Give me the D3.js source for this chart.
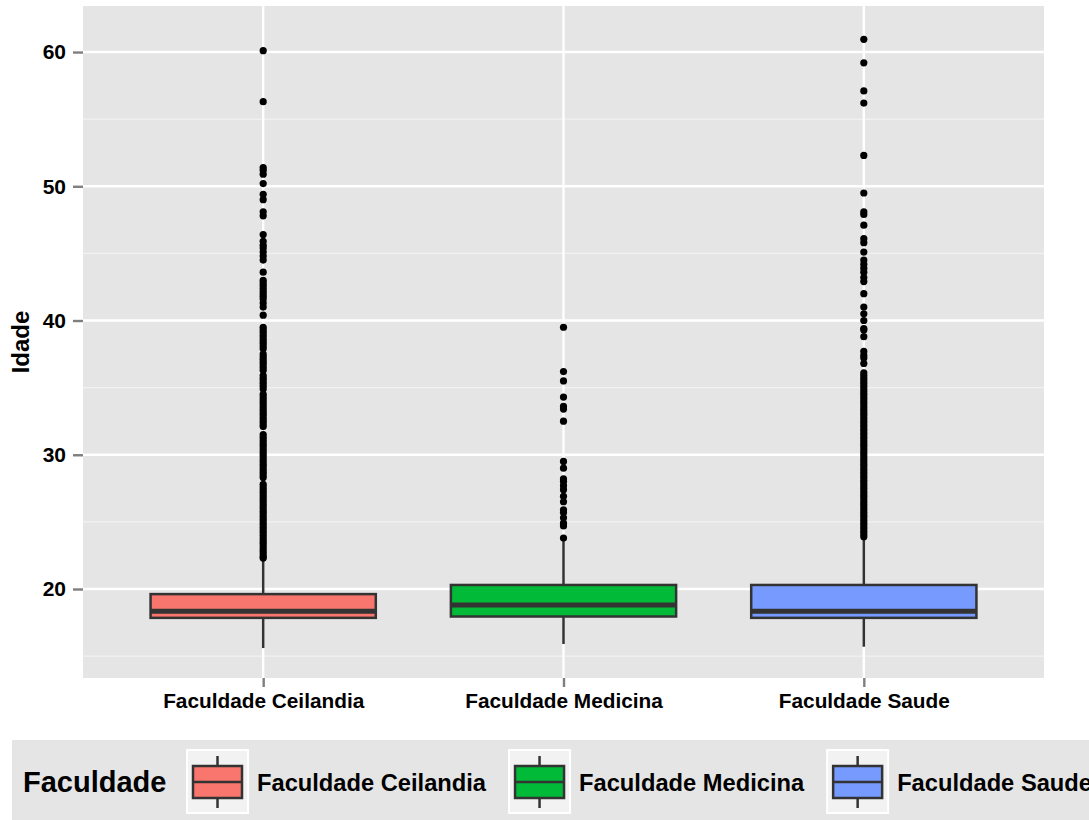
<html>
<head>
<title>Idade por Faculdade</title>
<script src="https://d3js.org/d3.v7.min.js"></script>
<style>
body { margin: 0; background: #fff; font-family: 'Liberation Sans', Arial, sans-serif; }
svg { display: block; }
</style>
</head>
<body>
<div id="chart"></div>
<script>

// categories and box statistics
var categories = ["Faculdade Ceilandia", "Faculdade Medicina", "Faculdade Saude"];
var colors = ["#F8766D", "#00BA38", "#779AFF"];
var lowerWhisker = [15.6, 15.9, 15.7];
var q1 = [17.85, 17.95, 17.85];
var medians = [18.35, 18.8, 18.35];
var q3 = [19.62, 20.3, 20.3];
var upperWhisker = [22.2, 23.6, 23.8];

// outliers per faculty
var outCeilandia = [60.1, 56.3, 51.4, 51.2, 50.9, 50.2, 49.4, 49.0, 48.1, 47.8, 46.4, 45.9, 45.6, 45.4,
  45.1, 44.8, 44.5, 43.6, 43.0, 42.8, 42.6, 42.4, 42.2, 42.0, 41.8, 41.6, 41.3, 41.0, 40.4, 39.5,
  39.3, 39.1, 38.9, 38.7, 38.5, 38.3, 38.1, 37.9, 37.5, 37.3, 37.1, 36.9, 36.7, 36.5, 36.3, 35.9,
  35.7, 35.5, 35.3, 35.1, 34.9, 34.5, 34.3, 34.1, 33.9, 33.7, 33.5, 33.3, 33.1, 32.9, 32.7, 32.5,
  32.3, 32.1, 31.5, 31.3, 31.1, 30.9, 30.7, 30.5, 30.3, 30.1, 29.9, 29.7, 29.5, 29.3, 29.1, 28.9,
  28.7, 28.5, 28.3, 27.8, 27.6, 27.4, 27.2, 27.0, 26.8, 26.6, 26.4, 26.2, 26.0, 25.8, 25.6, 25.4,
  25.2, 25.0, 24.8, 24.6, 24.4, 24.2, 24.0, 23.8, 23.6, 23.4, 23.2, 23.0, 22.8, 22.6, 22.4, 22.3];
var outMedicina = [39.5, 36.2, 35.5, 34.3, 33.6, 33.4, 32.5, 29.5, 29.0, 28.2, 28.0, 27.7, 27.4, 26.9,
  26.5, 25.9, 25.7, 25.3, 24.9, 24.7, 23.8];
var outSaude = [60.95, 59.2, 57.1, 56.2, 52.3, 49.5, 48.1, 47.9, 47.1, 46.1, 45.8, 45.1, 44.5, 44.2,
  43.9, 43.6, 43.2, 42.9, 42.0, 41.0, 40.5, 40.0, 39.4, 39.3, 38.8, 37.7, 37.4, 37.2, 36.8, 36.1,
  35.9, 35.7, 35.5, 35.3, 35.1, 34.9, 34.7, 34.5, 34.3, 34.1, 33.9, 33.7, 33.5, 33.3, 33.1, 32.9,
  32.7, 32.5, 32.3, 32.1, 31.9, 31.7, 31.5, 31.3, 31.1, 30.9, 30.7, 30.5, 30.3, 30.1, 29.9, 29.7,
  29.5, 29.3, 29.1, 28.9, 28.7, 28.5, 28.3, 28.1, 27.9, 27.7, 27.5, 27.3, 27.1, 26.9, 26.7, 26.5,
  26.3, 26.1, 25.9, 25.7, 25.5, 25.3, 25.1, 24.9, 24.7, 24.5, 24.3, 24.1, 23.9];
var outliers = [outCeilandia, outMedicina, outSaude];

var yTicks = [20, 30, 40, 50, 60];
var yMinor = [15, 25, 35, 45, 55];

var W = 1089, H = 820;
var panel = {left: 83, top: 6, right: 1044, bottom: 678};

var svg = d3.select("#chart").append("svg")
  .attr("width", W)
  .attr("height", H);

// discrete positions with 0.6 step of padding each side
var x = d3.scalePoint()
  .domain(categories)
  .range([panel.left, panel.right])
  .padding(0.6);
var boxW = x.step() * 0.75;
function cx(c) { return x(c); }

var y = d3.scaleLinear()
  .domain([13.37, 63.43])
  .range([panel.bottom, panel.top]);

// panel background
svg.append("rect")
  .attr("x", panel.left).attr("y", panel.top)
  .attr("width", panel.right - panel.left)
  .attr("height", panel.bottom - panel.top)
  .attr("fill", "#e5e5e5");

// minor grid
svg.append("g").selectAll("line")
  .data(yMinor).enter().append("line")
  .attr("x1", panel.left).attr("x2", panel.right)
  .attr("y1", function(d) { return y(d); })
  .attr("y2", function(d) { return y(d); })
  .attr("stroke", "#f2f2f2").attr("stroke-width", 1.2);

// major grid
svg.append("g").selectAll("line")
  .data(yTicks).enter().append("line")
  .attr("x1", panel.left).attr("x2", panel.right)
  .attr("y1", function(d) { return y(d); })
  .attr("y2", function(d) { return y(d); })
  .attr("stroke", "#fff").attr("stroke-width", 2.4);

svg.append("g").selectAll("line")
  .data(categories).enter().append("line")
  .attr("x1", cx).attr("x2", cx)
  .attr("y1", panel.top).attr("y2", panel.bottom)
  .attr("stroke", "#fff").attr("stroke-width", 2.4);

// y axis
var yAxis = svg.append("g")
  .attr("transform", "translate(" + panel.left + ",0)")
  .call(d3.axisLeft(y).tickValues(yTicks).tickSize(10).tickPadding(7));
yAxis.select(".domain").remove();
yAxis.selectAll(".tick line").attr("stroke", "#7f7f7f").attr("stroke-width", 2.4);
yAxis.selectAll(".tick text")
  .attr("fill", "#000")
  .style("font-family", "'Liberation Sans', Arial, sans-serif")
  .style("font-size", "21px").style("font-weight", "bold");

// x axis
var xAxis = svg.append("g")
  .attr("transform", "translate(0," + panel.bottom + ")")
  .call(d3.axisBottom(x).tickSize(9).tickPadding(6));
xAxis.select(".domain").remove();
xAxis.selectAll(".tick line").attr("stroke", "#7f7f7f").attr("stroke-width", 2.4);
xAxis.selectAll(".tick text")
  .attr("fill", "#000")
  .style("font-family", "'Liberation Sans', Arial, sans-serif")
  .style("font-size", "20.8px").style("font-weight", "bold");

// y title
svg.append("text")
  .attr("transform", "translate(29," + ((panel.top + panel.bottom) / 2) + ") rotate(-90)")
  .attr("text-anchor", "middle")
  .style("font-size", "24px").style("font-weight", "bold")
  .text("Idade");

// boxes
var boxes = svg.append("g").selectAll("g")
  .data(categories).enter().append("g");

boxes.append("line")
  .attr("x1", cx).attr("x2", cx)
  .attr("y1", function(d, i) { return y(lowerWhisker[i]); })
  .attr("y2", function(d, i) { return y(q1[i]); })
  .attr("stroke", "#333").attr("stroke-width", 2.5);
boxes.append("line")
  .attr("x1", cx).attr("x2", cx)
  .attr("y1", function(d, i) { return y(q3[i]); })
  .attr("y2", function(d, i) { return y(upperWhisker[i]); })
  .attr("stroke", "#333").attr("stroke-width", 2.5);
boxes.append("rect")
  .attr("x", function(d) { return cx(d) - boxW / 2; })
  .attr("y", function(d, i) { return y(q3[i]); })
  .attr("width", boxW)
  .attr("height", function(d, i) { return y(q1[i]) - y(q3[i]); })
  .attr("fill", function(d, i) { return colors[i]; })
  .attr("stroke", "#333").attr("stroke-width", 2.5);
boxes.append("line")
  .attr("x1", function(d) { return cx(d) - boxW / 2; })
  .attr("x2", function(d) { return cx(d) + boxW / 2; })
  .attr("y1", function(d, i) { return y(medians[i]); })
  .attr("y2", function(d, i) { return y(medians[i]); })
  .attr("stroke", "#333").attr("stroke-width", 5);

// outlier points
boxes.each(function(c, i) {
  d3.select(this).selectAll("circle")
    .data(outliers[i]).enter().append("circle")
    .attr("cx", cx(c))
    .attr("cy", function(d) { return y(d); })
    .attr("r", 3.6)
    .attr("fill", "#000");
});

// legend
var lg = svg.append("g");
lg.append("rect")
  .attr("x", 12).attr("y", 740)
  .attr("width", W).attr("height", 90)
  .attr("fill", "#e5e5e5");

lg.append("text")
  .attr("x", 23).attr("y", 792)
  .style("font-size", "29px").style("font-weight", "bold")
  .text("Faculdade");

// keys laid out one after the other, like ggplot's horizontal legend
var keyX = 187;
categories.forEach(function(c, i) {
  var k = lg.append("g").attr("transform", "translate(" + keyX + ",750)");
  k.append("rect")
    .attr("x", 0).attr("y", 0).attr("width", 61).attr("height", 63)
    .attr("fill", "#f2f2f2").attr("stroke", "#fff").attr("stroke-width", 2);
  k.append("line")
    .attr("x1", 30.5).attr("x2", 30.5).attr("y1", 6).attr("y2", 58)
    .attr("stroke", "#333").attr("stroke-width", 2.5);
  k.append("rect")
    .attr("x", 6).attr("y", 16).attr("width", 49).attr("height", 32)
    .attr("fill", colors[i]).attr("stroke", "#333").attr("stroke-width", 2.5);
  k.append("line")
    .attr("x1", 6).attr("x2", 55).attr("y1", 32).attr("y2", 32)
    .attr("stroke", "#333").attr("stroke-width", 2.5);
  var t = lg.append("text")
    .attr("x", keyX + 70).attr("y", 791)
    .style("font-size", "23.7px").style("font-weight", "bold")
    .text(c);
  keyX = keyX + 70 + t.node().getComputedTextLength() + 23;
});

</script>
</body>
</html>
